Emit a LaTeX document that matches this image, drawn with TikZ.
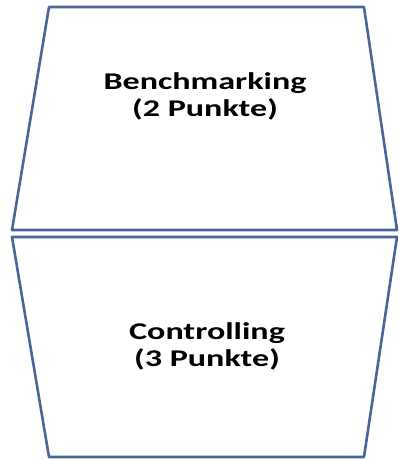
\documentclass[tikz,border=0pt]{standalone}
\usepackage{fontspec}
\usepackage{graphicx}
\setmainfont{Carlito}
\usetikzlibrary{positioning}

% stretched label line
\newcommand{\wideline}[1]{\scalebox{1.42}[1]{#1}}

\begin{document}
\begin{tikzpicture}[x=1pt,y=-1pt,line join=round,
	face/.style={draw=faceblue,line width=2.6pt,fill=white},
	label text/.style={align=center,font=\bfseries\fontsize{24}{27}\selectfont,inner sep=0pt}]
	\definecolor{faceblue}{RGB}{72,102,150}
	\useasboundingbox (0,0) rectangle (399,459);
	
	% upper face
	\coordinate (tl) at (49,7);
	\coordinate (tr) at (364,7);
	\coordinate (ml) at (12,230);
	\coordinate (mr) at (397,230);
	% lower face
	\coordinate (nl) at (12,237);
	\coordinate (nr) at (397,237);
	\coordinate (bl) at (49,457);
	\coordinate (br) at (364,457);
	
	\draw[face] (tl) -- (tr) -- (mr) -- (ml) -- cycle;
	\draw[face] (nl) -- (nr) -- (br) -- (bl) -- cycle;
	
	\node[label text] (bench) at (205,96) {\wideline{Benchmarking}\\\wideline{(2 Punkte)}};
	\node[label text] (contr) at (207,346) {\wideline{Controlling}\\\wideline{(3 Punkte)}};
\end{tikzpicture}
\end{document}
